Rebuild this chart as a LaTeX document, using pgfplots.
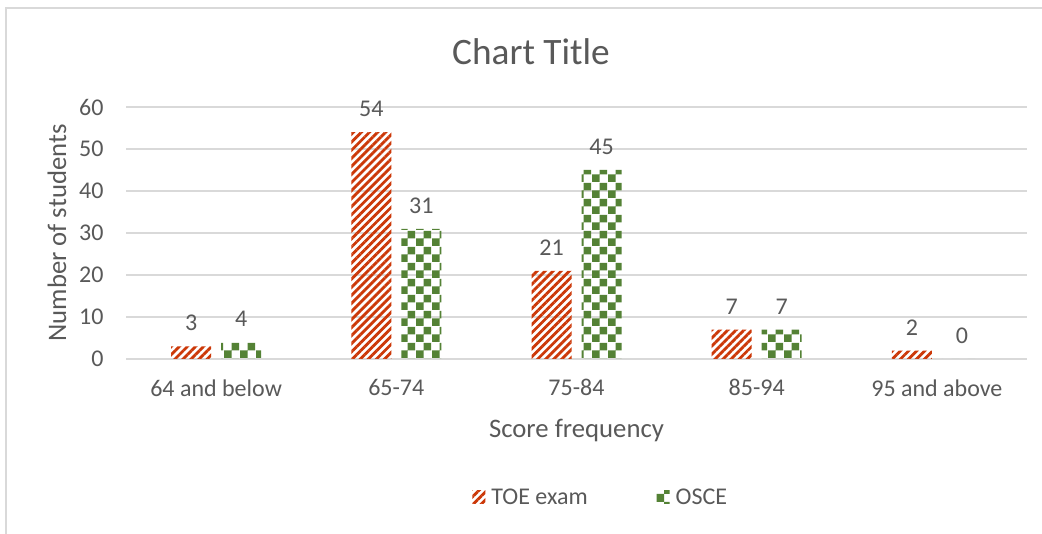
\documentclass[border=0pt]{standalone}
\usepackage{fontspec}
\setmainfont{Carlito}
\usepackage{pgfplots}
\pgfplotsset{compat=1.18}
\usetikzlibrary{patterns,patterns.meta}
\definecolor{toe}{RGB}{204,56,8}
\definecolor{osce}{RGB}{84,130,53}
\definecolor{txtgray}{RGB}{89,89,89}
\definecolor{gridgray}{RGB}{217,217,217}
\pgfdeclarepatternformonly{checker}{\pgfqpoint{0pt}{0pt}}{\pgfqpoint{16pt}{16pt}}{\pgfqpoint{16pt}{16pt}}{%
  \pgfpathrectangle{\pgfqpoint{0pt}{0pt}}{\pgfqpoint{8pt}{8pt}}%
  \pgfpathrectangle{\pgfqpoint{8pt}{8pt}}{\pgfqpoint{8pt}{8pt}}%
  \pgfusepath{fill}}
\begin{document}
\begin{tikzpicture}
\path[use as bounding box] (0,0) rectangle (1042pt,534pt);
\fill[white] (0,0) rectangle (1042pt,534pt);
\draw[line width=1.5pt, color=gridgray] (6pt,0) -- (6pt,526pt) -- (1042pt,526pt);
\begin{axis}[
  at={(126pt,175pt)}, anchor=south west,
  scale only axis, width=901pt, height=252pt,
  /pgf/number format/assume math mode=true,
  ybar=10pt, bar width=40pt,
  xmin=-0.5, xmax=4.5, ymin=0, ymax=60,
  enlargelimits=false,
  xtick=data,
  xticklabels={64 and below,65-74,75-84,85-94,95 and above},
  ytick={0,10,...,60},
  major tick length=0pt,
  axis line style={draw=none},
  ymajorgrids, grid style={color=gridgray, line width=1.4pt},
  tick label style={font=\fontsize{24}{29}\selectfont, text=txtgray},
  xticklabel style={yshift=-17pt},
  yticklabel style={xshift=-19pt},
  title={Chart Title},
  title style={font=\fontsize{37.3}{44}\selectfont, text=txtgray, at={(0.4495,1.194)}, anchor=center},
  xlabel={Score frequency},
  xlabel style={font=\fontsize{26.7}{32}\selectfont, text=txtgray, at={(0.5,-0.282)}, anchor=center},
  ylabel={Number of students},
  ylabel style={font=\fontsize{26.7}{32}\selectfont, text=txtgray, at={(-0.0766,0.5)}, anchor=center, rotate=0},
  nodes near coords,
  every node near coord/.append style={font=\fontsize{24}{29}\selectfont, text=txtgray, yshift=12pt},
  legend columns=2,
  legend style={draw=none, fill=none, at={(0.527,-0.548)}, anchor=center,
    font=\fontsize{24}{29}\selectfont, text=txtgray,
    /tikz/every odd column/.append style={column sep=4pt},
    /tikz/every even column/.append style={column sep=67pt}},
  legend image code/.code={\path[#1] (0pt,-6.5pt) rectangle (13pt,6.5pt);},
]
\addplot[draw=none, pattern={Lines[angle=45, distance=5.7pt, line width=2.8pt]}, pattern color=toe]
  coordinates {(0,3) (1,54) (2,21) (3,7) (4,2)};
\addplot[draw=none, pattern=checker, pattern color=osce]
  coordinates {(0,4) (1,31) (2,45) (3,7) (4,0)};
\legend{TOE exam, OSCE}
\end{axis}
\end{tikzpicture}
\end{document}
